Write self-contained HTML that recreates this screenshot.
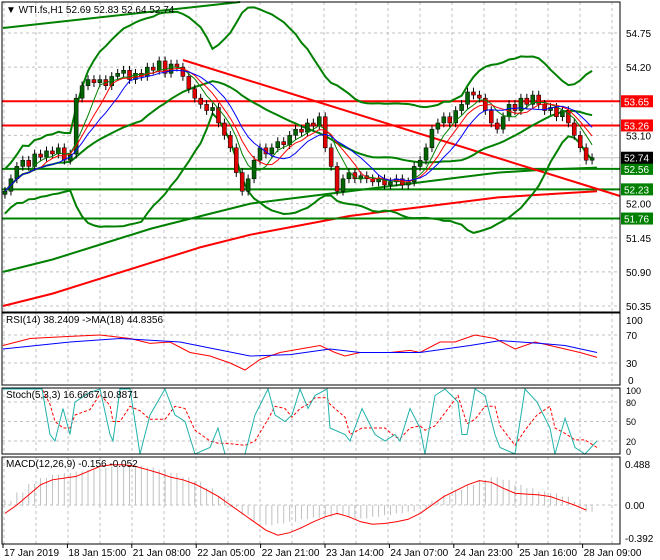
<!DOCTYPE html>
<html><head><meta charset="utf-8"><style>
body{margin:0;background:#fff;width:660px;height:560px;overflow:hidden}
svg{display:block;font-family:"Liberation Sans",sans-serif}
</style></head><body>
<svg id="c" width="660" height="560"></svg>
<script>
const closes=[52.2,52.4,52.6,52.7,52.6,52.8,52.75,52.85,52.8,52.9,
52.7,52.8,53.7,53.9,54.0,53.95,54.0,53.9,54.05,54.1,
54.15,54.0,54.1,54.05,54.2,54.15,54.3,54.1,54.25,54.2,
54.05,53.85,53.7,53.6,53.5,53.55,53.3,53.1,52.9,52.5,
52.2,52.4,52.7,52.9,52.8,52.9,53.0,52.95,53.1,53.2,
53.15,53.3,53.25,53.4,52.9,52.6,52.2,52.4,52.5,52.4,
52.45,52.4,52.35,52.4,52.3,52.35,52.4,52.3,52.35,52.6,
52.7,52.9,53.2,53.3,53.4,53.3,53.5,53.6,53.8,53.75,
53.7,53.5,53.3,53.2,53.4,53.6,53.5,53.7,53.6,53.75,
53.6,53.5,53.55,53.4,53.5,53.3,53.1,52.9,52.7,52.74];
const longGreen=[50.90,51.1,51.35,51.6,51.8,52.0,52.1,52.2,52.3,52.4,52.5,52.55,52.58];
const longRed=[50.35,50.55,50.8,51.05,51.3,51.5,51.65,51.8,51.9,52.0,52.1,52.15,52.2];
const levels=[{p:53.65,c:"#ff0000"},{p:53.26,c:"#ff0000"},{p:52.56,c:"#008000"},{p:52.23,c:"#008000"},{p:51.76,c:"#008000"}];
const priceTicks=[54.75,54.20,53.10,52.00,51.45,50.90,50.35];
const rsiX=[3,30,70,100,130,150,170,190,210,230,245,260,280,300,320,335,345,360,390,410,420,440,455,475,495,515,535,550,565,580,597];
const rsiV=[55,65,68,70,65,58,60,45,40,30,20,35,45,50,55,45,40,45,45,48,45,60,60,70,65,50,60,55,50,45,38];
const rsiMaX=[3,70,120,180,250,290,330,360,420,470,500,540,565,597];
const rsiMaV=[50,60,65,60,40,42,50,45,45,55,62,58,55,45];
const stX=[3,20,42,50,55,63,70,75,90,100,110,113,120,130,140,150,165,175,185,195,210,218,225,245,255,268,275,285,292,300,308,315,327,330,345,350,362,375,385,395,400,410,420,425,435,445,458,462,467,475,485,495,500,515,525,537,550,555,565,575,585,597];
const stV=[100,100,100,30,20,70,30,80,95,100,30,20,100,100,0,60,100,60,50,0,10,40,0,0,60,100,60,50,60,100,70,90,100,40,30,20,70,30,20,30,20,70,40,0,90,100,80,30,30,100,90,30,10,0,100,80,40,0,55,10,0,20];
const macdHist=[0.05,0.15,0.25,0.32,0.36,0.38,0.40,0.42,0.44,0.46,0.47,0.47,0.45,0.42,0.38,0.33,0.28,0.2,0.1,-0.02,-0.12,-0.2,-0.24,-0.22,-0.2,-0.17,-0.15,-0.14,-0.12,-0.15,-0.16,-0.14,-0.12,-0.1,-0.08,-0.05,0.05,0.12,0.18,0.24,0.3,0.33,0.3,0.24,0.2,0.16,0.14,0.1,0.04,-0.08];
const macdSig=[-0.1,0.0,0.12,0.24,0.3,0.32,0.34,0.4,0.46,0.48,0.48,0.46,0.42,0.38,0.33,0.3,0.25,0.18,0.1,0.0,-0.1,-0.2,-0.3,-0.36,-0.33,-0.27,-0.2,-0.14,-0.1,-0.14,-0.2,-0.23,-0.22,-0.2,-0.17,-0.1,0.0,0.1,0.17,0.24,0.29,0.27,0.2,0.14,0.13,0.12,0.1,0.05,0.0,-0.06];
const dateLabels=["17 Jan 2019","18 Jan 15:00","21 Jan 08:00","22 Jan 05:00","22 Jan 21:00","23 Jan 14:00","24 Jan 07:00","24 Jan 23:00","25 Jan 16:00","28 Jan 09:00"];

const S=document.getElementById('c');const NS="http://www.w3.org/2000/svg";
function el(t,a,txt){const e=document.createElementNS(NS,t);for(const k in a)e.setAttribute(k,a[k]);if(txt!==undefined)e.textContent=txt;S.appendChild(e);return e;}
const R=620;
const py=p=>33+(54.75-p)*62.05;
const bx=i=>5+i*5.93;
const ry=v=>384-0.7*v;
const sy=v=>454-0.65*v;
const my=v=>505-84*v;
for(let x=4;x<R;x+=32){[[2,312],[313,385],[388,454],[457,544]].forEach(r=>{const g=el('line',{x1:x,x2:x,y1:r[0],y2:r[1],stroke:'#c0c0c0','stroke-dasharray':'3,3'});});}
priceTicks.concat([53.65]).forEach(p=>{const g=el('line',{x1:2,x2:R,y1:py(p),y2:py(p),stroke:'#c0c0c0','stroke-dasharray':'3,3'});});
[70,30].forEach(v=>{const g=el('line',{x1:2,x2:R,y1:ry(v),y2:ry(v),stroke:'#c0c0c0','stroke-dasharray':'3,3'});});
[80,50,20].forEach(v=>{const g=el('line',{x1:2,x2:R,y1:sy(v),y2:sy(v),stroke:'#c0c0c0','stroke-dasharray':'3,3'});});
{const g=el('line',{x1:2,x2:R,y1:my(0),y2:my(0),stroke:'#c0c0c0','stroke-dasharray':'3,3'});}
function poly(arr,xf,yf,col,w,name,dash){const pts=arr.map((v,i)=>xf(i).toFixed(1)+','+yf(v).toFixed(1)).join(' ');const e=el('polyline',{points:pts,fill:'none',stroke:col,'stroke-width':w});if(dash)e.setAttribute('stroke-dasharray',dash);return e;}
poly(longGreen,i=>3+i*(594/(longGreen.length-1)),py,'#008000',2,'ma-long-green');
poly(longRed,i=>3+i*(594/(longRed.length-1)),py,'#ff0000',2,'ma-long-red');
levels.forEach(l=>{const e=el('line',{x1:2,x2:R,y1:py(l.p),y2:py(l.p),stroke:l.c,'stroke-width':2});});
{const e=el('line',{x1:2,x2:R,y1:py(52.74),y2:py(52.74),stroke:'#c0c0c0'});}
{const e=el('line',{x1:183,y1:60,x2:620,y2:196,stroke:'#ff0000','stroke-width':2});}
{const e=el('line',{x1:3,y1:28,x2:240,y2:2,stroke:'#008000','stroke-width':2});}
function sma(a,n,i){let s=0,c=0;for(let k=Math.max(0,i-n+1);k<=i;k++){s+=a[k];c++;}return s/c;}
function sd(a,n,i){const m=sma(a,n,i);let s=0,c=0;for(let k=Math.max(0,i-n+1);k<=i;k++){s+=(a[k]-m)**2;c++;}return Math.sqrt(s/c);}
const BP=24,BD=2.4;
const mid=closes.map((_,i)=>sma(closes,BP,i));
const up=closes.map((_,i)=>mid[i]+BD*Math.max(sd(closes,BP,i),0.15));
const dn=closes.map((_,i)=>mid[i]-BD*Math.max(sd(closes,BP,i),0.15));
poly(up,bx,py,'#008000',2,'bollinger-upper');poly(dn,bx,py,'#008000',2,'bollinger-lower');poly(mid,bx,py,'#008000',2,'bollinger-middle');
closes.forEach((c,i)=>{const o=i?closes[i-1]:c-0.05;const hi=Math.max(o,c)+0.07,lo=Math.min(o,c)-0.07;const x=bx(i);
const w=el('line',{x1:x,x2:x,y1:py(hi),y2:py(lo),stroke:'#000'});
const b=el('rect',{x:x-2,y:py(Math.max(o,c)),width:4,height:Math.max(1,Math.abs(py(o)-py(c))),fill:c>=o?'#006400':'#e00000',stroke:'#000','stroke-width':0.5});});
poly(closes.map((_,i)=>sma(closes,5,i)),bx,py,'#008000',1,'ma-fast');
poly(closes.map((_,i)=>sma(closes,7,i)),bx,py,'#ff0000',1,'ma-mid');
poly(closes.map((_,i)=>sma(closes,10,i)),bx,py,'#0000ff',1,'ma-slow');
function polyXY(xs,vs,yf,col,name,dash){const e=el('polyline',{points:xs.map((x,i)=>x+','+yf(vs[i]).toFixed(1)).join(' '),fill:'none',stroke:col,'stroke-width':1});if(dash)e.setAttribute('stroke-dasharray',dash);}
polyXY(rsiX,rsiV,ry,'#ff0000','rsi-line');polyXY(rsiMaX,rsiMaV,ry,'#0000ff','rsi-ma-line');
const stSig=stV.map((_,i)=>(stV[Math.max(0,i-1)]+stV[Math.max(0,i-2)]+stV[i])/3);
polyXY(stX,stSig,sy,'#ff0000','stoch-signal','3,2');polyXY(stX,stV,sy,'#20b2aa','stoch-main');
const mx=i=>5+i*11.86;
macdHist.forEach((v,i)=>{[0,5.93].forEach(d=>{const e=el('line',{x1:mx(i)+d,x2:mx(i)+d,y1:my(0),y2:my(v),stroke:'#c0c0c0'});});});
poly(macdSig,mx,my,'#ff0000',1,'macd-signal');
[[2,2,312],[2,313,385],[2,388,454],[2,457,544]].forEach(r=>{const e=el('rect',{x:r[0],y:r[1],width:R-r[0],height:r[2]-r[1],fill:'none',stroke:'#000'});});
function txt(x,y,s,name,extra){const e=el('text',Object.assign({x:x,y:y,'font-size':10,fill:'#000'},extra||{}),s);return e;}
priceTicks.forEach(p=>txt(626,py(p)+4,p.toFixed(2),'price-tick'));
levels.concat([{p:52.74,c:'#000'}]).forEach(l=>{const r=el('rect',{x:621,y:py(l.p)-6,width:32,height:12,fill:l.c});txt(624,py(l.p)+4,l.p.toFixed(2),'level-tag-text',{fill:'#fff'});});
[[100,320],[70,335],[30,363],[0,380]].forEach(a=>txt(a[0]?626:628,a[1]+4,String(a[0]),'rsi-tick'));
[[100,390],[80,402],[50,421],[20,441],[0,451]].forEach(a=>txt(626,a[1]+4,String(a[0]),'stoch-tick',{'font-size':9}));
[["0.488",my(0.488)],["0.00",my(0)],["-0.392",my(-0.392)]].forEach(a=>txt(625,a[1]+4,a[0],'macd-tick'));
dateLabels.forEach((d,i)=>{const x=3+i*64.4;const t=el('line',{x1:x,x2:x,y1:544,y2:548,stroke:'#000'});txt(x+1,556,d,'date-label');});
txt(6,13,'▼ WTI.fs,H1  52.69 52.83 52.64 52.74','chart-title',{'font-size':10});
txt(6,323,'RSI(14) 38.2409  ->MA(18) 44.8356','rsi-title');
txt(6,398,'Stoch(5,3,3) 16.6667 10.8871','stoch-title');
txt(6,467,'MACD(12,26,9) -0.156 -0.052','macd-title');
</script>
</body></html>
